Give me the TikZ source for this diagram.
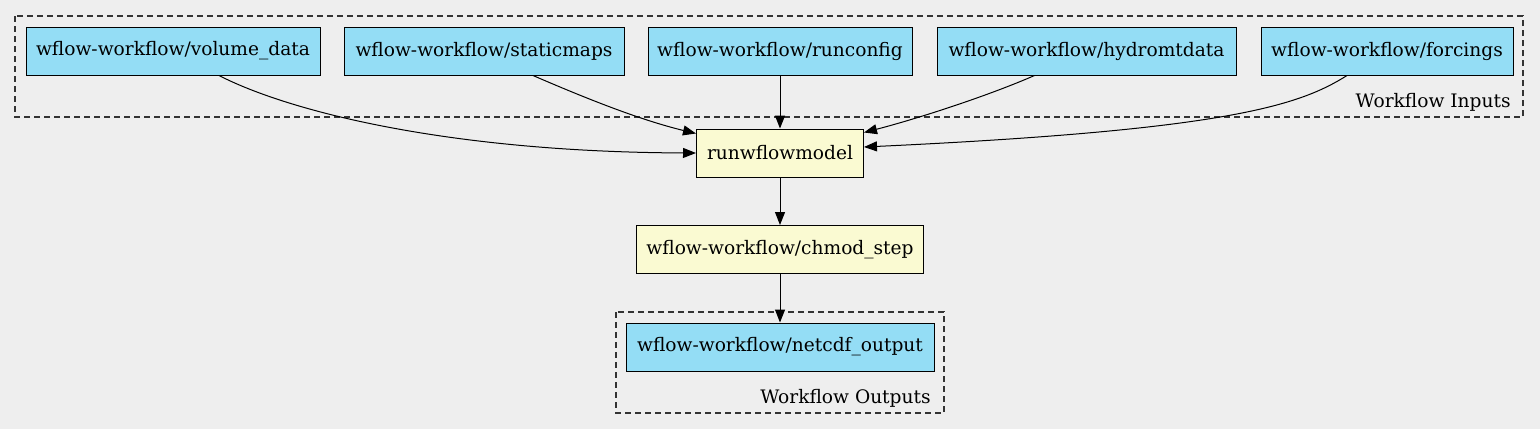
\documentclass[tikz,border=0pt]{standalone}
\usepackage{fontspec}
\setmainfont{DejaVu Serif}
\usepackage{tikz}
\usetikzlibrary{arrows.meta, positioning, calc}
\definecolor{wfbg}{HTML}{EEEEEE}
\definecolor{wfdata}{HTML}{94DDF5}
\definecolor{wfstep}{HTML}{FAFAD2}
\definecolor{wfline}{HTML}{333333}

\begin{document}
\begin{tikzpicture}[
    x=0.5pt, y=-0.5pt,
    databox/.style={rectangle, draw=black, fill=wfdata, line width=0.5pt,
                    minimum width=#1, minimum height=24pt, inner sep=0pt,
                    font=\fontsize{9.3}{11}\selectfont},
    stepbox/.style={rectangle, draw=black, fill=wfstep, line width=0.5pt,
                    minimum width=#1, minimum height=24pt, inner sep=0pt,
                    font=\fontsize{9.3}{11}\selectfont},
    cluster/.style={draw=wfline, line width=0.6pt, dash pattern=on 3pt off 2pt},
    clusterlabel/.style={anchor=base east, inner sep=0pt,
                         font=\fontsize{9.3}{11}\selectfont},
    flow/.style={-{Triangle[length=6.5pt, width=5pt]}, line width=0.5pt},
]
\fill[wfbg] (0,0) rectangle (1540,429);
\useasboundingbox (0,0) rectangle (1540,429);

% clusters
\draw[cluster] (15,16) rectangle (1523,117);
\node[clusterlabel] (inlabel) at (1511,107) {Workflow Inputs};
\draw[cluster] (616,312) rectangle (944,413);
\node[clusterlabel] (outlabel) at (931,403) {Workflow Outputs};

% inputs
\node[databox=147pt]   (volume)   at (173,51)    {wflow-workflow/volume\_data};
\node[databox=140pt]   (static)   at (484,51)    {wflow-workflow/staticmaps};
\node[databox=132pt]   (runconf)  at (780,51)    {wflow-workflow/runconfig};
\node[databox=149.5pt] (hydromt)  at (1086.5,51) {wflow-workflow/hydromtdata};
\node[databox=126pt]   (forcings) at (1387,51)   {wflow-workflow/forcings};

% steps
\node[stepbox=83.5pt]  (runmodel) at (780,153)   {runwflowmodel};
\node[stepbox=143.5pt] (chmod)    at (780,249.5) {wflow-workflow/chmod\_step};

% outputs
\node[databox=154pt]   (netcdf)   at (780,347)   {wflow-workflow/netcdf\_output};

% edges
\draw[flow] ($(volume.south)+(46,0)$) .. controls (290,112) and (450,152) .. (runmodel.west);
\draw[flow] ($(static.south)+(49,0)$) .. controls (585,98) and (640,120) .. ($(runmodel.north west)+(0,5)$);
\draw[flow] (runconf.south) -- (runmodel.north);
\draw[flow] ($(hydromt.south)+(-52,0)$) .. controls (990,95) and (920,118) .. ($(runmodel.north east)+(0,4)$);
\draw[flow] ($(forcings.south)+(-40,0)$) .. controls (1300,105) and (1230,130) .. ($(runmodel.east)+(0,-6)$);
\draw[flow] (runmodel.south) -- (chmod.north);
\draw[flow] (chmod.south) -- (netcdf.north);
\end{tikzpicture}
\end{document}
